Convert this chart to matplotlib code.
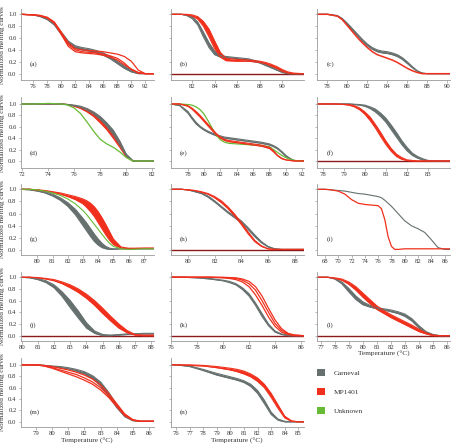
import matplotlib
matplotlib.use("Agg")
import matplotlib.pyplot as plt
from matplotlib.patches import Patch

plt.rcParams['font.family'] = ['Liberation Serif', 'DejaVu Serif']

GRAY = '#66706f'
RED = '#f0301c'
GREEN = '#66bb33'
DARKRED = '#8b1a1a'

SERIES_NAMES = ['Carneval', 'MP1401', 'Unknown']

# ---------------- (a) ----------------
A_T = [74.2, 76, 77, 78, 79, 80, 81, 82, 83, 84, 85, 86, 87, 88, 89, 90, 91, 92, 93.2]
A_GRAY_HI = [1.0, 0.99, 0.97, 0.93, 0.85, 0.70, 0.55, 0.47, 0.44, 0.42, 0.39, 0.35, 0.29, 0.21, 0.13, 0.06, 0.02, 0.0, 0.0]
A_GRAY_LO = [1.0, 0.99, 0.96, 0.91, 0.82, 0.66, 0.50, 0.43, 0.40, 0.38, 0.35, 0.31, 0.25, 0.17, 0.09, 0.03, 0.0, 0.0, 0.0]
A_RED_1 = [1.0, 0.99, 0.98, 0.95, 0.87, 0.70, 0.52, 0.42, 0.40, 0.39, 0.38, 0.37, 0.35, 0.33, 0.29, 0.21, 0.06, 0.0, 0.0]
A_RED_2 = [1.0, 0.99, 0.98, 0.94, 0.86, 0.68, 0.49, 0.40, 0.37, 0.36, 0.35, 0.33, 0.30, 0.26, 0.18, 0.07, 0.01, 0.0, 0.0]
A_RED_3 = [1.0, 0.99, 0.97, 0.94, 0.85, 0.66, 0.46, 0.37, 0.35, 0.34, 0.33, 0.31, 0.28, 0.23, 0.15, 0.08, 0.02, 0.0, 0.0]

# ---------------- (b) ----------------
B_T = [80.1, 81, 81.5, 82, 82.5, 83, 83.5, 84, 84.5, 85, 86, 87, 88, 88.5, 89, 89.5, 90, 90.5, 91, 91.9]
B_GRAY_HI = [1, 1, 0.99, 0.96, 0.87, 0.70, 0.52, 0.38, 0.31, 0.29, 0.27, 0.25, 0.20, 0.16, 0.12, 0.07, 0.04, 0.01, 0, 0]
B_GRAY_LO = [1, 1, 0.98, 0.93, 0.82, 0.62, 0.44, 0.32, 0.28, 0.27, 0.25, 0.23, 0.18, 0.14, 0.10, 0.06, 0.02, 0.0, 0, 0]
B_RED_HI = [1, 1, 1, 0.99, 0.96, 0.88, 0.75, 0.55, 0.36, 0.26, 0.24, 0.23, 0.21, 0.19, 0.16, 0.12, 0.07, 0.03, 0.01, 0]
B_RED_LO = [1, 1, 0.99, 0.97, 0.92, 0.80, 0.62, 0.42, 0.28, 0.22, 0.21, 0.21, 0.19, 0.17, 0.13, 0.09, 0.04, 0.01, 0, 0]

# ---------------- (c) ----------------
C_T = [77, 78, 79, 79.5, 80, 80.5, 81, 81.5, 82, 82.5, 83, 83.5, 84, 84.5, 85, 85.5, 86, 86.5, 87, 87.5, 88, 90.3]
C_GRAY_HI = [1, 1, 0.98, 0.93, 0.85, 0.76, 0.67, 0.58, 0.50, 0.44, 0.40, 0.38, 0.37, 0.35, 0.32, 0.27, 0.20, 0.12, 0.05, 0.01, 0, 0]
C_GRAY_LO = [1, 1, 0.97, 0.91, 0.82, 0.73, 0.64, 0.55, 0.47, 0.41, 0.37, 0.35, 0.34, 0.32, 0.29, 0.24, 0.17, 0.10, 0.04, 0.01, 0, 0]
C_RED = [1, 1, 0.97, 0.91, 0.81, 0.71, 0.61, 0.52, 0.44, 0.37, 0.32, 0.29, 0.26, 0.23, 0.19, 0.14, 0.09, 0.05, 0.02, 0.0, 0, 0]

# ---------------- (d) ----------------
D_T = [71.9, 73, 74, 75, 75.5, 76, 76.5, 77, 77.5, 78, 78.5, 79, 79.5, 80, 80.5, 81, 82.1]
D_GRAY_HI = [1, 1, 1, 1, 0.99, 0.98, 0.96, 0.92, 0.86, 0.78, 0.67, 0.54, 0.35, 0.12, 0.01, 0, 0]
D_GRAY_LO = [1, 1, 1, 1, 0.99, 0.97, 0.94, 0.89, 0.82, 0.73, 0.61, 0.46, 0.28, 0.09, 0.0, 0, 0]
D_RED_HI = [1, 1, 1, 1, 0.99, 0.97, 0.94, 0.89, 0.82, 0.72, 0.60, 0.46, 0.28, 0.08, 0, 0, 0]
D_RED_LO = [1, 1, 1, 1, 0.99, 0.96, 0.92, 0.86, 0.78, 0.67, 0.55, 0.40, 0.24, 0.07, 0, 0, 0]
D_GREEN = [1, 1, 1.01, 1.0, 0.98, 0.93, 0.83, 0.68, 0.52, 0.38, 0.30, 0.24, 0.16, 0.06, 0, 0, 0]

# ---------------- (e) ----------------
E_T = [75.9, 77, 78, 78.5, 79, 79.5, 80, 80.5, 81, 81.5, 82, 82.5, 83, 84, 85, 86, 87, 88, 88.5, 89, 89.5, 90, 90.5, 91, 92.2]
E_GRAY_HI = [1, 0.98, 0.87, 0.77, 0.68, 0.61, 0.56, 0.52, 0.49, 0.46, 0.44, 0.42, 0.41, 0.39, 0.37, 0.35, 0.33, 0.30, 0.27, 0.23, 0.17, 0.10, 0.05, 0.01, 0]
E_GRAY_LO = [1, 0.97, 0.84, 0.74, 0.65, 0.59, 0.54, 0.50, 0.47, 0.44, 0.42, 0.40, 0.39, 0.37, 0.35, 0.33, 0.31, 0.28, 0.25, 0.21, 0.15, 0.08, 0.04, 0.01, 0]
E_RED_HI = [1, 1.0, 0.97, 0.93, 0.87, 0.80, 0.72, 0.64, 0.56, 0.48, 0.42, 0.38, 0.36, 0.34, 0.32, 0.30, 0.28, 0.24, 0.18, 0.10, 0.05, 0.02, 0.01, 0, 0]
E_RED_LO = [1, 1.0, 0.96, 0.91, 0.84, 0.77, 0.69, 0.61, 0.53, 0.46, 0.40, 0.36, 0.34, 0.32, 0.30, 0.28, 0.26, 0.22, 0.16, 0.09, 0.04, 0.02, 0.01, 0, 0]
E_GREEN = [1, 1.0, 0.99, 0.98, 0.95, 0.90, 0.82, 0.70, 0.57, 0.45, 0.37, 0.33, 0.31, 0.30, 0.29, 0.28, 0.27, 0.25, 0.20, 0.15, 0.10, 0.06, 0.03, 0.01, 0]

# ---------------- (f) ----------------
F_T = [77.74, 78.5, 79, 79.25, 79.5, 79.75, 80, 80.25, 80.5, 80.75, 81, 81.25, 81.5, 81.75, 82, 82.25, 82.5, 82.75, 83, 83.5, 84.06]
F_RED_HI = [1, 1, 0.995, 0.99, 0.97, 0.93, 0.86, 0.77, 0.64, 0.50, 0.35, 0.22, 0.12, 0.06, 0.02, 0.01, 0, 0, 0, 0, 0]
F_RED_LO = [1, 1, 0.99, 0.98, 0.95, 0.90, 0.82, 0.71, 0.58, 0.43, 0.29, 0.17, 0.08, 0.03, 0.01, 0, 0, 0, 0, 0, 0]
F_GRAY_HI = [1, 1, 1, 1, 0.995, 0.99, 0.98, 0.95, 0.91, 0.84, 0.75, 0.63, 0.50, 0.36, 0.24, 0.14, 0.08, 0.04, 0.01, 0, 0]
F_GRAY_LO = [1, 1, 1, 1, 0.99, 0.98, 0.96, 0.92, 0.86, 0.78, 0.68, 0.55, 0.42, 0.29, 0.18, 0.10, 0.05, 0.02, 0.005, 0, 0]

# ---------------- (g) ----------------
G_T = [78.9, 79.5, 80, 80.5, 81, 81.5, 82, 82.5, 83, 83.25, 83.5, 83.75, 84, 84.25, 84.5, 84.75, 85, 85.5, 86, 87, 87.65]
G_GRAY_HI = [1, 1, 0.98, 0.96, 0.92, 0.86, 0.78, 0.67, 0.52, 0.44, 0.35, 0.26, 0.18, 0.11, 0.06, 0.03, 0.02, 0.02, 0.02, 0.02, 0.02]
G_GRAY_LO = [1, 0.99, 0.97, 0.94, 0.89, 0.82, 0.72, 0.58, 0.40, 0.31, 0.22, 0.14, 0.08, 0.04, 0.02, 0.01, 0.01, 0.02, 0.02, 0.02, 0.02]
G_RED_HI = [1, 1, 0.99, 0.98, 0.96, 0.94, 0.91, 0.88, 0.84, 0.81, 0.77, 0.71, 0.63, 0.53, 0.42, 0.30, 0.18, 0.05, 0.03, 0.03, 0.03]
G_RED_LO = [1, 1, 0.99, 0.97, 0.95, 0.92, 0.88, 0.83, 0.76, 0.70, 0.63, 0.55, 0.45, 0.35, 0.25, 0.16, 0.09, 0.03, 0.02, 0.03, 0.03]
G_GREEN = [1, 1, 0.99, 0.97, 0.94, 0.90, 0.84, 0.76, 0.65, 0.58, 0.50, 0.42, 0.34, 0.26, 0.18, 0.11, 0.06, 0.02, 0.01, 0.02, 0.02]

# ---------------- (h) ----------------
H_T = [78.7, 79.5, 80, 80.5, 81, 81.5, 82, 82.5, 83, 83.5, 84, 84.5, 85, 85.5, 86, 86.5, 87, 88, 88.68]
H_GRAY_HI = [1, 1, 0.99, 0.97, 0.94, 0.89, 0.81, 0.72, 0.63, 0.56, 0.48, 0.37, 0.25, 0.14, 0.06, 0.02, 0.01, 0.01, 0.01]
H_GRAY_LO = [1, 1, 0.99, 0.96, 0.93, 0.87, 0.79, 0.70, 0.61, 0.53, 0.45, 0.34, 0.22, 0.12, 0.05, 0.02, 0.01, 0.01, 0.01]
H_RED_HI = [1, 1, 0.99, 0.98, 0.96, 0.93, 0.88, 0.81, 0.71, 0.59, 0.45, 0.30, 0.16, 0.07, 0.02, 0.01, 0.01, 0.01, 0.01]
H_RED_LO = [1, 1, 0.99, 0.98, 0.95, 0.92, 0.86, 0.78, 0.68, 0.56, 0.42, 0.27, 0.14, 0.06, 0.02, 0.01, 0.01, 0.01, 0.01]

# ---------------- (i) ----------------
I_T = [66.85, 68, 69, 70, 71, 72, 73, 74, 75, 76, 76.5, 77, 77.5, 78, 78.5, 79, 80, 81, 82, 83, 84, 85, 86, 86.85]
I_GRAY = [1, 1, 0.99, 0.98, 0.97, 0.95, 0.93, 0.92, 0.90, 0.88, 0.86, 0.82, 0.77, 0.72, 0.66, 0.60, 0.48, 0.40, 0.35, 0.29, 0.17, 0.04, 0.01, 0.01]
I_RED = [1, 1, 0.99, 0.97, 0.92, 0.83, 0.77, 0.75, 0.74, 0.73, 0.68, 0.50, 0.22, 0.06, 0.01, 0.01, 0.02, 0.02, 0.02, 0.02, 0.02, 0.02, 0.02, 0.02]

# ---------------- (j) ----------------
J_T = [79.94, 80.5, 81, 81.5, 82, 82.5, 83, 83.5, 84, 84.5, 85, 85.5, 86, 86.5, 87, 87.5, 88.15]
J_GRAY_HI = [1, 1, 0.98, 0.94, 0.87, 0.75, 0.60, 0.42, 0.22, 0.08, 0.02, 0.01, 0.02, 0.03, 0.03, 0.04, 0.04]
J_GRAY_LO = [1, 0.99, 0.96, 0.91, 0.82, 0.67, 0.48, 0.30, 0.13, 0.04, 0.0, 0.0, 0.01, 0.02, 0.03, 0.03, 0.03]
J_RED_HI = [1, 1, 0.995, 0.98, 0.96, 0.92, 0.87, 0.80, 0.71, 0.60, 0.47, 0.33, 0.20, 0.09, 0.02, 0.01, 0.01]
J_RED_LO = [1, 1, 0.99, 0.97, 0.94, 0.89, 0.82, 0.74, 0.64, 0.52, 0.38, 0.25, 0.13, 0.05, 0.01, 0.0, 0.0]

# ---------------- (k) ----------------
K_T = [76, 77, 78, 79, 80, 80.5, 81, 81.5, 82, 82.5, 83, 83.5, 84, 84.5, 85, 85.5, 86.2]
K_GRAY_HI = [1, 1, 0.99, 0.98, 0.95, 0.93, 0.89, 0.82, 0.72, 0.56, 0.38, 0.20, 0.08, 0.03, 0.01, 0, 0]
K_GRAY_LO = [1, 1, 0.99, 0.97, 0.94, 0.91, 0.87, 0.79, 0.68, 0.52, 0.33, 0.17, 0.06, 0.02, 0.0, 0, 0]
K_RED_1 = [1, 1, 1, 1, 1, 0.995, 0.99, 0.97, 0.93, 0.84, 0.68, 0.47, 0.27, 0.12, 0.04, 0.01, 0]
K_RED_2 = [1, 1, 1, 1, 0.995, 0.99, 0.98, 0.95, 0.89, 0.78, 0.60, 0.40, 0.21, 0.09, 0.03, 0.01, 0]
K_RED_3 = [1, 1, 1, 1, 0.99, 0.98, 0.96, 0.92, 0.84, 0.70, 0.52, 0.32, 0.16, 0.06, 0.02, 0, 0]

# ---------------- (l) ----------------
L_T = [76.76, 77.5, 78, 78.5, 79, 79.5, 80, 80.5, 81, 81.5, 82, 82.5, 83, 83.5, 84, 84.5, 85, 85.5, 86.23]
L_GRAY_HI = [1, 1, 0.98, 0.92, 0.81, 0.68, 0.58, 0.52, 0.48, 0.46, 0.44, 0.41, 0.37, 0.29, 0.17, 0.07, 0.02, 0, 0]
L_GRAY_LO = [1, 1, 0.97, 0.89, 0.75, 0.62, 0.53, 0.49, 0.46, 0.44, 0.41, 0.38, 0.33, 0.25, 0.13, 0.05, 0.01, 0, 0]
L_RED_HI = [1, 1, 0.99, 0.97, 0.92, 0.84, 0.73, 0.62, 0.51, 0.43, 0.36, 0.30, 0.24, 0.18, 0.11, 0.05, 0.01, 0, 0]
L_RED_LO = [1, 1, 0.98, 0.95, 0.88, 0.78, 0.66, 0.55, 0.45, 0.38, 0.31, 0.25, 0.19, 0.13, 0.07, 0.03, 0.0, 0, 0]

# ---------------- (m) ----------------
M_T = [78.04, 79, 79.5, 80, 80.5, 81, 81.5, 82, 82.5, 83, 83.5, 84, 84.5, 85, 85.5, 86.3]
M_GRAY_HI = [1, 1, 0.99, 0.98, 0.97, 0.95, 0.92, 0.88, 0.81, 0.70, 0.52, 0.30, 0.12, 0.03, 0.01, 0.01]
M_GRAY_LO = [1, 1, 0.99, 0.97, 0.95, 0.93, 0.89, 0.84, 0.76, 0.63, 0.45, 0.25, 0.09, 0.02, 0.01, 0.01]
M_RED_1 = [1, 1, 0.99, 0.97, 0.94, 0.91, 0.87, 0.82, 0.75, 0.65, 0.50, 0.32, 0.14, 0.04, 0.01, 0.01]
M_RED_2 = [1, 1, 0.98, 0.95, 0.91, 0.87, 0.83, 0.77, 0.70, 0.60, 0.46, 0.29, 0.12, 0.03, 0.01, 0.01]
M_RED_3 = [1, 1, 0.98, 0.94, 0.89, 0.84, 0.79, 0.73, 0.66, 0.56, 0.43, 0.27, 0.11, 0.03, 0.01, 0.01]

# ---------------- (n) ----------------
N_T = [75.6, 76, 77, 78, 79, 80, 80.5, 81, 81.5, 82, 82.5, 83, 83.5, 84, 84.5, 85, 85.4]
N_GRAY_HI = [1, 1, 0.98, 0.92, 0.85, 0.79, 0.76, 0.72, 0.66, 0.55, 0.38, 0.17, 0.05, 0.01, 0.0, 0, 0]
N_GRAY_LO = [1, 1, 0.97, 0.90, 0.82, 0.76, 0.73, 0.69, 0.62, 0.50, 0.32, 0.13, 0.03, 0.0, 0, 0, 0]
N_RED_HI = [1, 1, 1, 0.99, 0.97, 0.94, 0.92, 0.89, 0.84, 0.77, 0.66, 0.50, 0.30, 0.10, 0.02, 0, 0]
N_RED_LO = [1, 1, 0.99, 0.98, 0.95, 0.91, 0.88, 0.84, 0.79, 0.71, 0.60, 0.43, 0.24, 0.07, 0.01, 0, 0]

PANEL_LABELS = ['(a)', '(b)', '(c)', '(d)', '(e)', '(f)', '(g)', '(h)', '(i)', '(j)', '(k)', '(l)', '(m)', '(n)']

W, H = 459, 446
fig = plt.figure(figsize=(W / 100, H / 100), dpi=100)

COL_LEFT = [20.7, 170.7, 317.3]
COL_W = 133.0
ROW_TB = [(9.3, 80.0), (97.3, 168.3), (184.0, 255.0), (272.0, 340.7), (358.0, 427.0)]
ROW_YLIM = [(-0.106, 1.084), (-0.128, 1.117), (-0.082, 1.087), (-0.086, 1.09), (-0.09, 1.12)]

FS = 4.8


def make_ax(r, c):
    top, bot = ROW_TB[r]
    ax = fig.add_axes([COL_LEFT[c] / W, 1 - bot / H, COL_W / W, (bot - top) / H])
    ax.set_ylim(*ROW_YLIM[r])
    for s in ['top', 'right']:
        ax.spines[s].set_visible(False)
    for s in ['left', 'bottom']:
        ax.spines[s].set_color('#9a9a9a')
        ax.spines[s].set_linewidth(0.6)
    ax.set_yticks([0, 0.2, 0.4, 0.6, 0.8, 1.0])
    ax.tick_params(axis='both', labelsize=FS, length=1.8, width=0.5, color='#9a9a9a',
                   pad=1.2, labelcolor='#333333')
    if c == 0:
        ax.set_yticklabels(['0.0', '0.2', '0.4', '0.6', '0.8', '1.0'])
        ax.set_ylabel('Normalized melting curves', fontsize=FS + 0.3, labelpad=2, color='#333333')
    else:
        ax.set_yticklabels([])
    return ax


def band(ax, T, lo, hi, color, lw=0.8):
    ax.fill_between(T, lo, hi, color=color, lw=0)
    ax.plot(T, hi, color=color, lw=lw)
    ax.plot(T, lo, color=color, lw=lw)


def line(ax, T, y, color, lw=0.9):
    ax.plot(T, y, color=color, lw=lw)


def zero_line(ax):
    ax.axhline(0, color=DARKRED, lw=1.0, zorder=1)


panels = [
    (0, 0, (74.2, 93.2), range(76, 93, 2)),
    (0, 1, (80.1, 91.9), range(82, 91, 2)),
    (0, 2, (77.0, 90.3), range(78, 91, 2)),
    (1, 0, (71.9, 82.1), range(72, 83, 2)),
    (1, 1, (75.9, 92.2), range(78, 93, 2)),
    (1, 2, (77.74, 84.06), range(78, 84, 1)),
    (2, 0, (78.9, 87.65), range(80, 88, 1)),
    (2, 1, (78.7, 88.68), range(80, 89, 2)),
    (2, 2, (66.85, 86.85), range(68, 87, 2)),
    (3, 0, (79.94, 88.15), range(80, 89, 1)),
    (3, 1, (76.0, 86.2), range(76, 87, 2)),
    (3, 2, (76.76, 86.23), range(77, 87, 1)),
    (4, 0, (78.04, 86.3), range(79, 87, 1)),
    (4, 1, (75.6, 85.4), range(76, 86, 1)),
]

axes = []
for k, (r, c, xl, xt) in enumerate(panels):
    ax = make_ax(r, c)
    ax.set_xlim(*xl)
    ax.set_xticks(list(xt))
    ax.text(0.07, 0.22, PANEL_LABELS[k], transform=ax.transAxes, fontsize=FS + 0.3,
            color='#333333', va='center')
    axes.append(ax)

a, b, c_, d, e, f, g, h, i_, j, k_, l, m, n = axes

# (a)
band(a, A_T, A_GRAY_LO, A_GRAY_HI, GRAY)
line(a, A_T, A_RED_1, RED)
line(a, A_T, A_RED_2, RED)
line(a, A_T, A_RED_3, RED)
# (b)
zero_line(b)
band(b, B_T, B_GRAY_LO, B_GRAY_HI, GRAY)
band(b, B_T, B_RED_LO, B_RED_HI, RED)
# (c)
band(c_, C_T, C_GRAY_LO, C_GRAY_HI, GRAY)
line(c_, C_T, C_RED, RED, lw=1.1)
# (d)
band(d, D_T, D_RED_LO, D_RED_HI, RED)
band(d, D_T, D_GRAY_LO, D_GRAY_HI, GRAY)
line(d, D_T, D_GREEN, GREEN, lw=0.9)
# (e)
band(e, E_T, E_GRAY_LO, E_GRAY_HI, GRAY)
line(e, E_T, E_GREEN, GREEN, lw=0.9)
band(e, E_T, E_RED_LO, E_RED_HI, RED)
# (f)
zero_line(f)
band(f, F_T, F_GRAY_LO, F_GRAY_HI, GRAY)
band(f, F_T, F_RED_LO, F_RED_HI, RED)
# (g)
band(g, G_T, G_GRAY_LO, G_GRAY_HI, GRAY)
band(g, G_T, G_RED_LO, G_RED_HI, RED)
line(g, G_T, G_GREEN, GREEN, lw=0.8)
# (h)
zero_line(h)
band(h, H_T, H_GRAY_LO, H_GRAY_HI, GRAY)
band(h, H_T, H_RED_LO, H_RED_HI, RED)
# (i)
line(i_, I_T, I_GRAY, GRAY, lw=0.8)
line(i_, I_T, I_RED, RED, lw=0.9)
# (j)
zero_line(j)
band(j, J_T, J_GRAY_LO, J_GRAY_HI, GRAY)
band(j, J_T, J_RED_LO, J_RED_HI, RED)
# (k)
zero_line(k_)
band(k_, K_T, K_GRAY_LO, K_GRAY_HI, GRAY)
line(k_, K_T, K_RED_1, RED)
line(k_, K_T, K_RED_2, RED)
line(k_, K_T, K_RED_3, RED)
# (l)
zero_line(l)
band(l, L_T, L_GRAY_LO, L_GRAY_HI, GRAY)
band(l, L_T, L_RED_LO, L_RED_HI, RED)
# (m)
band(m, M_T, M_GRAY_LO, M_GRAY_HI, GRAY)
line(m, M_T, M_RED_1, RED)
line(m, M_T, M_RED_2, RED)
line(m, M_T, M_RED_3, RED)
# (n)
band(n, N_T, N_GRAY_LO, N_GRAY_HI, GRAY)
band(n, N_T, N_RED_LO, N_RED_HI, RED)

for ax in (l, m, n):
    ax.set_xlabel('Temperature (°C)', fontsize=FS + 0.5, labelpad=1.0, color='#333333')

handles = [Patch(facecolor=GRAY, edgecolor='none'),
           Patch(facecolor=RED, edgecolor='none'),
           Patch(facecolor=GREEN, edgecolor='none')]
fig.legend(handles, SERIES_NAMES, loc='upper left', bbox_to_anchor=(314 / W, 1 - 366 / H),
           frameon=False, fontsize=FS + 0.5, handlelength=1.1, handleheight=1.1,
           labelspacing=1.6, handletextpad=1.2, borderaxespad=0, labelcolor='#333333')

fig.savefig('out.png', dpi=100)
